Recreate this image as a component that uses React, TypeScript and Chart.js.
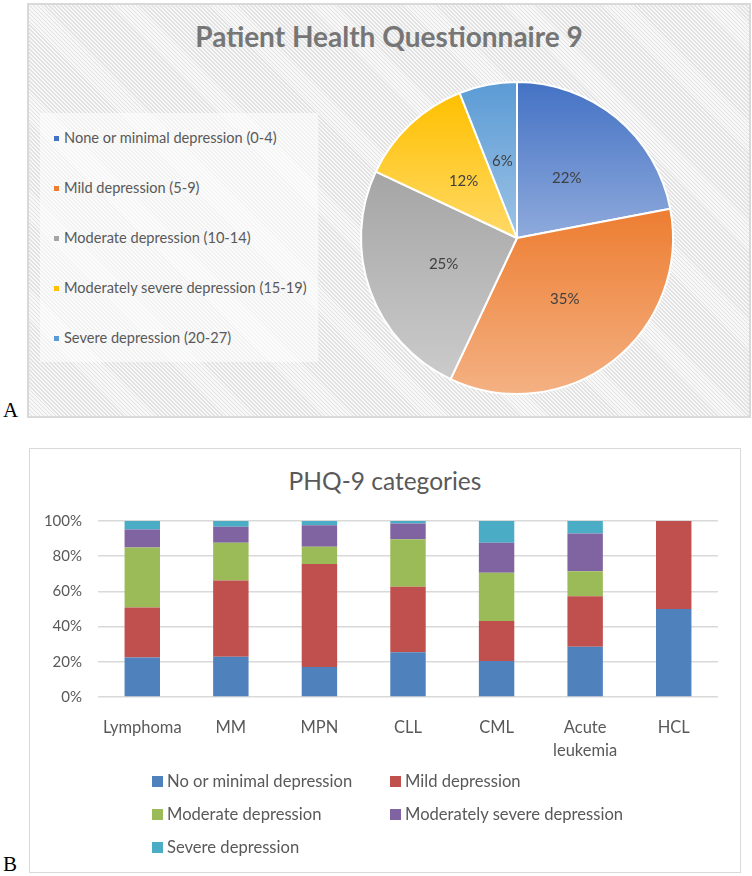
import React, { useEffect, useRef } from 'react';
import { Chart, registerables } from 'chart.js';

Chart.register(...registerables);

// ---------- Panel A: pie ----------
const pieTitle = 'Patient Health Questionnaire 9';
const pieLabels = [
  'None or minimal depression (0-4)',
  'Mild depression (5-9)',
  'Moderate depression (10-14)',
  'Moderately severe depression (15-19)',
  'Severe depression (20-27)',
];
const pieValues = [22, 35, 25, 12, 6];
const pieTopColors = ['#4472C4', '#ED7D31', '#A5A5A5', '#FFC000', '#5B9BD5'];
const pieBottomColors = ['#8FAADC', '#F4B183', '#CBCBCB', '#FFD966', '#9DC3E6'];

// ---------- Panel B: stacked bars ----------
const barTitle = 'PHQ-9 categories';
const barCategories: (string | string[])[] = ['Lymphoma', 'MM', 'MPN', 'CLL', 'CML', ['Acute', 'leukemia'], 'HCL'];
const seriesNames = [
  'No or minimal depression',
  'Mild depression',
  'Moderate depression',
  'Moderately severe depression',
  'Severe depression',
];
const noneMinimal = [22.5, 22.8, 17.1, 25.4, 20.4, 28.6, 50];
const mild = [28.4, 43.4, 58.5, 37.3, 22.8, 28.6, 50];
const moderate = [34.0, 21.5, 9.8, 26.9, 27.4, 14.3, 0];
const modSevere = [10.2, 9.1, 12.2, 9.0, 17.1, 21.4, 0];
const severe = [4.9, 3.2, 2.4, 1.4, 12.3, 7.1, 0];
const barSeries = [noneMinimal, mild, moderate, modSevere, severe];
const barColors = ['#4F81BD', '#C0504D', '#9BBB59', '#8064A2', '#4BACC6'];
const yMin = 0;
const yMax = 100;
const yStep = 20;

const FONT = 'Lato, "Open Sans", sans-serif';
const TEXT = '#595959';

function sliceBounds(cy: number, r: number, a0: number, a1: number): [number, number] {
  const ys = [cy, cy + r * Math.sin(a0), cy + r * Math.sin(a1)];
  for (const t of [-Math.PI / 2, Math.PI / 2, (3 * Math.PI) / 2]) {
    if (t >= a0 && t <= a1) ys.push(cy + r * Math.sin(t));
  }
  return [Math.min(...ys), Math.max(...ys)];
}

const pieLabelPlugin = {
  id: 'pieValueLabels',
  afterDatasetsDraw(chart: any) {
    const ctx = chart.ctx;
    const meta = chart.getDatasetMeta(0);
    ctx.save();
    ctx.font = '15px ' + FONT;
    ctx.fillStyle = '#404040';
    ctx.textAlign = 'center';
    ctx.textBaseline = 'middle';
    meta.data.forEach((arc: any, i: number) => {
      const p = arc.getCenterPoint();
      ctx.fillText(pieValues[i] + '%', p.x, p.y);
    });
    ctx.restore();
  },
};

const hatch =
  'repeating-linear-gradient(45deg, #f7f7f7 0px, #f7f7f7 1.6px, #e2e2e2 1.6px, #e2e2e2 2.8px)';

export default function App() {
  const pieRef = useRef<HTMLCanvasElement>(null);
  const barRef = useRef<HTMLCanvasElement>(null);

  useEffect(() => {
    const total = pieValues.reduce((a, b) => a + b, 0);
    const pie = new Chart(pieRef.current!, {
      type: 'pie',
      data: {
        labels: pieLabels,
        datasets: [
          {
            data: pieValues,
            borderColor: '#ffffff',
            borderWidth: 2,
            backgroundColor: (c: any) => {
              const chart = c.chart;
              const area = chart.chartArea;
              const i = c.dataIndex;
              if (!area || i === undefined) return pieTopColors[i || 0];
              const cx = (area.left + area.right) / 2;
              const cy = (area.top + area.bottom) / 2;
              const r = (Math.min(area.width, area.height) - 2) / 2;
              let acc = 0;
              for (let k = 0; k < i; k++) acc += pieValues[k];
              const a0 = -Math.PI / 2 + (acc / total) * 2 * Math.PI;
              const a1 = -Math.PI / 2 + ((acc + pieValues[i]) / total) * 2 * Math.PI;
              const [y0, y1] = sliceBounds(cy, r, a0, a1);
              const g = chart.ctx.createLinearGradient(cx, y0, cx, y1);
              g.addColorStop(0, pieTopColors[i]);
              g.addColorStop(1, pieBottomColors[i]);
              return g;
            },
          },
        ],
      },
      options: {
        responsive: false,
        animation: false,
        events: [],
        layout: { padding: { left: 331, right: 75, top: 76, bottom: 21 } },
        plugins: {
          legend: { display: false },
          title: { display: false },
          tooltip: { enabled: false },
        },
      },
      plugins: [pieLabelPlugin],
    });

    const bar = new Chart(barRef.current!, {
      type: 'bar',
      data: {
        labels: barCategories as any,
        datasets: barSeries.map((d, i) => ({
          label: seriesNames[i],
          data: d,
          backgroundColor: barColors[i],
          borderWidth: 0,
          categoryPercentage: 0.8,
          barPercentage: 0.5,
        })),
      },
      options: {
        responsive: false,
        animation: false,
        events: [],
        layout: { padding: { left: 0, right: 22, top: 72, bottom: 115 } },
        plugins: {
          legend: { display: false },
          title: { display: false },
          tooltip: { enabled: false },
        },
        scales: {
          x: {
            stacked: true,
            grid: { display: false },
            border: { display: false },
            ticks: {
              color: TEXT,
              padding: 12,
              maxRotation: 0,
              autoSkip: false,
              font: { family: FONT, size: 16.5, lineHeight: 1.35 },
            },
            afterFit: (s: any) => {
              s.height = 60;
            },
          },
          y: {
            stacked: true,
            min: yMin,
            max: yMax,
            grid: { color: '#d9d9d9', lineWidth: 1.5, drawTicks: false },
            border: { display: false },
            ticks: {
              stepSize: yStep,
              color: TEXT,
              padding: 16,
              font: { family: FONT, size: 15 },
              callback: (v: any) => v + '%',
            },
            afterFit: (s: any) => {
              s.width = 68;
            },
          },
        },
      },
    });

    return () => {
      pie.destroy();
      bar.destroy();
    };
  }, []);

  return (
    <div style={{ position: 'relative', width: 752, height: 876, fontFamily: FONT }}>
      <style>{'body{margin:0}'}</style>

      {/* Panel A */}
      <div
        style={{
          position: 'absolute',
          left: 3,
          top: 398,
          fontFamily: '"Liberation Serif", "Times New Roman", serif',
          fontSize: 21,
          lineHeight: '24px',
          color: '#000',
        }}
      >
        A
      </div>
      <div
        style={{
          position: 'absolute',
          left: 27,
          top: 3,
          width: 724,
          height: 415,
          boxSizing: 'border-box',
          border: '2px solid #d9d9d9',
          background: hatch,
        }}
      >
        <div
          style={{
            position: 'absolute',
            left: 0,
            top: 15.4,
            width: '100%',
            textAlign: 'center',
            fontFamily: FONT,
            fontWeight: 700,
            fontSize: 28,
            lineHeight: 1.2,
            color: '#767676',
          }}
        >
          {pieTitle}
        </div>
        <div
          style={{
            position: 'absolute',
            left: 11,
            top: 108,
            width: 278,
            height: 249,
            background: 'rgba(255,255,255,0.55)',
          }}
        >
          {pieLabels.map((l, i) => (
            <div
              key={l}
              style={{
                position: 'absolute',
                left: 14,
                top: 25 + i * 50 - 9,
                height: 18,
                display: 'flex',
                alignItems: 'center',
                whiteSpace: 'nowrap',
              }}
            >
              <span
                style={{
                  display: 'inline-block',
                  width: 5,
                  height: 5,
                  background: pieTopColors[i],
                  marginRight: 5,
                }}
              />
              <span style={{ fontSize: 14.6, lineHeight: '18px', color: TEXT }}>{l}</span>
            </div>
          ))}
        </div>
        <canvas
          ref={pieRef}
          width={720}
          height={411}
          style={{ position: 'absolute', left: 0, top: 0, width: 720, height: 411 }}
        />
      </div>

      {/* Panel B */}
      <div
        style={{
          position: 'absolute',
          left: 3,
          top: 852,
          fontFamily: '"Liberation Serif", "Times New Roman", serif',
          fontSize: 21,
          lineHeight: '24px',
          color: '#000',
        }}
      >
        B
      </div>
      <div
        style={{
          position: 'absolute',
          left: 29,
          top: 448,
          width: 712,
          height: 425,
          boxSizing: 'border-box',
          border: '1px solid #d9d9d9',
          background: '#ffffff',
        }}
      >
        <div
          style={{
            position: 'absolute',
            left: 0,
            top: 17,
            width: '100%',
            textAlign: 'center',
            fontSize: 24.5,
            lineHeight: 1.2,
            color: TEXT,
          }}
        >
          {barTitle}
        </div>
        <canvas
          ref={barRef}
          width={710}
          height={423}
          style={{ position: 'absolute', left: 0, top: 0, width: 710, height: 423 }}
        />
        {seriesNames.map((n, i) => (
          <div
            key={n}
            style={{
              position: 'absolute',
              left: i % 2 === 0 ? 122 : 360,
              top: [332, 365, 398][Math.floor(i / 2)] - 10,
              height: 20,
              display: 'flex',
              alignItems: 'center',
              whiteSpace: 'nowrap',
            }}
          >
            <span
              style={{
                display: 'inline-block',
                width: 11,
                height: 11,
                background: barColors[i],
                marginRight: 4,
              }}
            />
            <span style={{ fontSize: 16.6, lineHeight: '20px', color: TEXT }}>{n}</span>
          </div>
        ))}
      </div>
    </div>
  );
}
